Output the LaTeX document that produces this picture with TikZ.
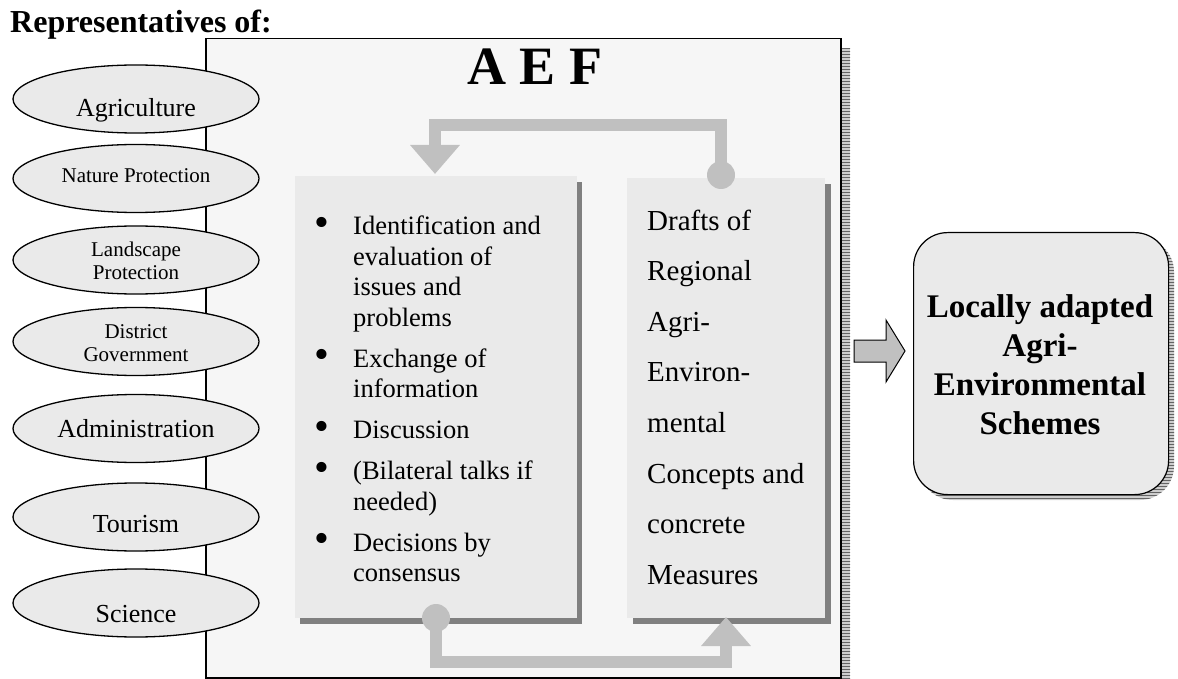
\documentclass[tikz,border=0pt]{standalone}
\usepackage{fontspec}
\setmainfont{Liberation Serif}
\usetikzlibrary{arrows.meta,patterns,shapes.geometric}
\definecolor{boxbg}{RGB}{234,234,234}
\definecolor{fbgray}{RGB}{192,192,192}
\definecolor{shgray}{RGB}{128,128,128}
\definecolor{framebg}{RGB}{246,246,246}
\definecolor{stripebg}{RGB}{205,205,205}
\definecolor{stripefg}{RGB}{100,100,100}
\newcommand{\bigbul}{\raisebox{-1.2pt}{\scalebox{1.6}{\textbullet}}}
\begin{document}
\begin{tikzpicture}[x=1pt,y=-1pt,
  rep/.style={ellipse, draw=black, line width=1.3pt, fill=boxbg, minimum width=246pt, minimum height=68pt, inner sep=0pt},
  replabel/.style={anchor=base, inner sep=0pt, font=\fontsize{26}{30}\selectfont},
  repsmall/.style={anchor=base, inner sep=0pt, font=\fontsize{21}{23.5}\selectfont},
  stripes/.style={preaction={fill=stripebg}, pattern=horizontal lines, pattern color=stripefg},
  panel/.style={fill=boxbg, draw=none, inner sep=0pt, anchor=north west},
  fbarrow/.style={line width=12pt, draw=fbgray, line join=miter, -{Triangle[width=48pt,length=29pt]}},
  fbdot/.style={circle, fill=fbgray, minimum size=28pt, inner sep=0pt},
  outarrow/.style={fill=fbgray, draw=black, line width=1pt, line join=miter}]
\useasboundingbox (0,0) rectangle (1178,679);

% AEF frame with striped shadow
\fill[stripes] (840,48) rectangle (850,679);
\node[draw=black, line width=1.5pt, fill=framebg, inner sep=0pt, anchor=north west,
      minimum width=635pt, minimum height=639pt] (aef) at (205,38) {};
\node[anchor=base, inner sep=0pt, font=\bfseries\fontsize{54}{60}\selectfont] (aeftitle) at (535,85) {A E F};

% heading
\node[anchor=base west, inner sep=0pt, font=\bfseries\fontsize{32}{36}\selectfont] (heading) at (10,33) {Representatives of:};

% representatives
\node[rep] (e1) at (136,99) {};
\node[rep] (e2) at (136,178.5) {};
\node[rep] (e3) at (136,260) {};
\node[rep] (e4) at (136,341.5) {};
\node[rep] (e5) at (136,428.5) {};
\node[rep] (e6) at (136,517) {};
\node[rep] (e7) at (136,603) {};
\node[replabel] (t1) at (136,117) {Agriculture};
\node[repsmall] (t2) at (136,183) {Nature Protection};
\node[repsmall] (t3) at (136,256) {\begin{tabular}[t]{@{}c@{}}Landscape\\Protection\end{tabular}};
\node[repsmall] (t4) at (136,338) {\begin{tabular}[t]{@{}c@{}}District\\Government\end{tabular}};
\node[replabel] (t5) at (136,437) {Administration};
\node[replabel] (t6) at (136,532) {Tourism};
\node[replabel] (t7) at (136,622) {Science};

% inner panels with shadows
\fill[shgray] (577,182) rectangle (582,624);
\fill[shgray] (300,618) rectangle (582,624);
\node[panel, minimum width=282pt, minimum height=442pt] (lbox) at (295,176) {};
\fill[shgray] (825,184) rectangle (831,624);
\fill[shgray] (633,618) rectangle (831,624);
\node[panel, minimum width=198pt, minimum height=440pt] (rbox) at (627,178) {};

\node[anchor=base west, inner sep=0pt, font=\fontsize{26.5}{30.5}\selectfont] (list) at (314,235)
{\begin{tabular}[t]{@{}p{39pt}@{}l@{}}
\bigbul & Identification and\\
 & evaluation of\\
 & issues and\\
 & problems\\[10.5pt]
\bigbul & Exchange of\\
 & information\\[10.5pt]
\bigbul & Discussion\\[10.5pt]
\bigbul & (Bilateral talks if\\
 & needed)\\[10.5pt]
\bigbul & Decisions by\\
 & consensus
\end{tabular}};

\node[anchor=base west, inner sep=0pt, font=\fontsize{29}{50.6}\selectfont] (drafts) at (647,230)
{\begin{tabular}[t]{@{}l@{}}Drafts of\\Regional\\Agri-\\Environ-\\mental\\Concepts and\\concrete\\Measures\end{tabular}};

% feedback loop arrows
\node[fbdot] (rdot) at (721,175) {};
\node[fbdot] (ldot) at (436,618) {};
\coordinate (ttip) at (435,174);
\coordinate (btip) at (726,617);
\draw[fbarrow] (rdot.center) -- ++(0,-50) -| (ttip);
\draw[fbarrow] (ldot.center) -- ++(0,44) -| (btip);

% result box
\fill[stripes, rounded corners=34pt] (919,238) rectangle (1174,500);
\node[draw=black, line width=1.2pt, fill=boxbg, rounded corners=34pt, inner sep=0pt, anchor=north west,
      minimum width=255pt, minimum height=262pt] (result) at (913,232) {};
\node[anchor=base, inner sep=0pt, font=\bfseries\fontsize{33}{39.3}\selectfont] (restext) at (1040,317)
{\begin{tabular}[t]{@{}c@{}}Locally adapted\\Agri-\\Environmental\\Schemes\end{tabular}};

% output arrow
\draw[outarrow] (854,340) -- (886,340) -- (886,320) -- (905,351) -- (886,382) -- (886,362) -- (854,362) -- cycle;
\end{tikzpicture}
\end{document}
